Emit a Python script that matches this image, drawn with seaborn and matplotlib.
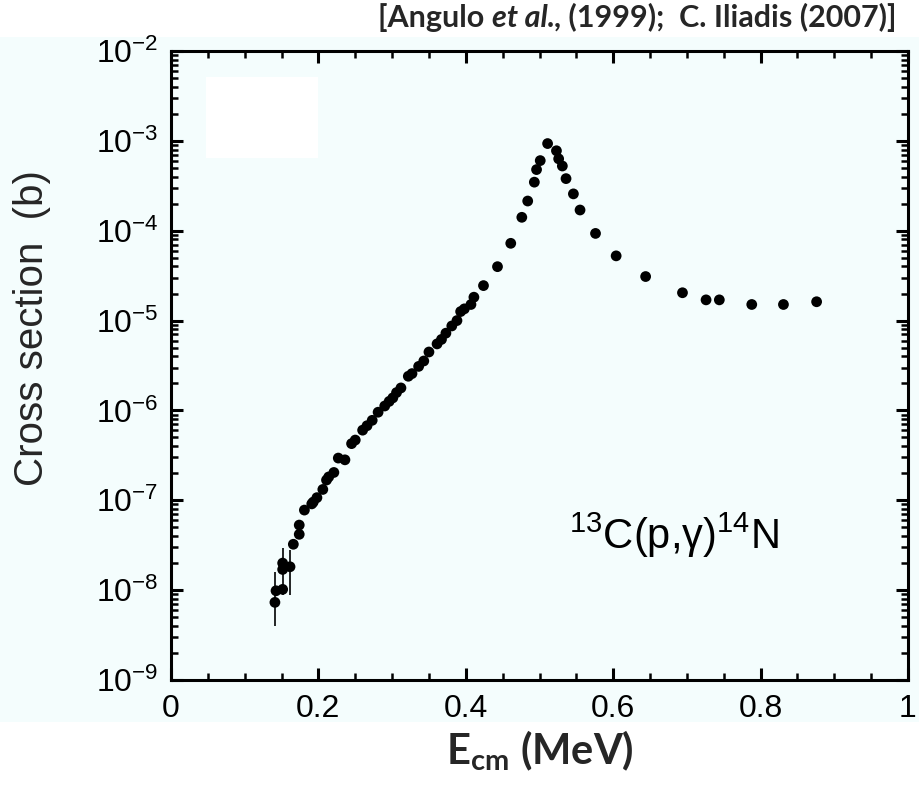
import numpy as np
import pandas as pd
import matplotlib
matplotlib.use("Agg")
import matplotlib.pyplot as plt
import seaborn as sns
from matplotlib.patches import Rectangle
from matplotlib.ticker import LogLocator, MultipleLocator, NullFormatter

# -------------------------
# Data: 13C(p,g)14N cross section
# -------------------------
energy = [0.141, 0.1425, 0.1515, 0.1515, 0.1515, 0.1615, 0.166, 0.174, 0.174, 0.181,
          0.191, 0.193, 0.198, 0.206, 0.211, 0.214, 0.221, 0.227, 0.236, 0.245,
          0.250, 0.260, 0.266, 0.273, 0.281, 0.290, 0.296, 0.301, 0.306, 0.312,
          0.322, 0.327, 0.336, 0.343, 0.350, 0.361, 0.367, 0.373, 0.381, 0.388,
          0.393, 0.398, 0.407, 0.411, 0.424, 0.443, 0.461, 0.476, 0.484, 0.493,
          0.496, 0.501, 0.511, 0.523, 0.526, 0.531, 0.536, 0.546, 0.555, 0.576,
          0.604, 0.644, 0.694, 0.726, 0.744, 0.788, 0.831, 0.876]
sigma = [7.31e-9, 9.84e-9, 1.02e-8, 1.70e-8, 2.00e-8, 1.82e-8, 3.24e-8, 4.18e-8, 5.30e-8, 7.78e-8,
         9.12e-8, 9.55e-8, 1.07e-7, 1.32e-7, 1.68e-7, 1.82e-7, 2.04e-7, 2.95e-7, 2.82e-7, 4.27e-7,
         4.68e-7, 6.03e-7, 6.76e-7, 7.76e-7, 9.55e-7, 1.12e-6, 1.26e-6, 1.38e-6, 1.58e-6, 1.78e-6,
         2.40e-6, 2.57e-6, 3.09e-6, 3.55e-6, 4.47e-6, 5.50e-6, 6.17e-6, 7.24e-6, 8.71e-6, 1.00e-5,
         1.26e-5, 1.35e-5, 1.51e-5, 1.82e-5, 2.45e-5, 3.98e-5, 7.24e-5, 1.41e-4, 2.14e-4, 3.47e-4,
         4.79e-4, 6.03e-4, 9.33e-4, 7.76e-4, 6.31e-4, 5.25e-4, 3.80e-4, 2.57e-4, 1.70e-4, 9.33e-5,
         5.25e-5, 3.09e-5, 2.04e-5, 1.70e-5, 1.70e-5, 1.51e-5, 1.51e-5, 1.62e-5]

# visible error bars at the lowest energies
err_energy = [0.141, 0.1515, 0.1615]
err_sigma = [7.31e-9, 2.00e-8, 1.82e-8]
err_low = [3.98e-9, 8.9e-9, 8.9e-9]
err_high = [1.60e-8, 2.95e-8, 2.80e-8]

xticks = [0, 0.2, 0.4, 0.6, 0.8, 1]
xtick_labels = ["0", "0.2", "0.4", "0.6", "0.8", "1"]

df = pd.DataFrame({"E": energy, "sigma": sigma})

# -------------------------
# Style
# -------------------------
sns.set_style("ticks")
plt.rcParams["font.family"] = ["Liberation Sans", "DejaVu Sans"]
plt.rcParams["mathtext.fontset"] = "custom"
plt.rcParams["mathtext.rm"] = "Liberation Sans"
plt.rcParams["mathtext.it"] = "Liberation Sans:italic"
plt.rcParams["mathtext.bf"] = "Lato:bold"

bg = "#f4fdfd"

fig = plt.figure(figsize=(9.2, 7.86), dpi=100, facecolor="white")
fig.patches.append(Rectangle((0, 1 - 722 / 786), 1, (722 - 37) / 786,
                             transform=fig.transFigure, facecolor=bg,
                             edgecolor="none", zorder=-10))
ax = fig.add_axes([171 / 920, 1 - 680 / 786, 737 / 920, 629 / 786])
ax.set_zorder(1)
ax.set_facecolor(bg)

# white box left on the original slide
ax.add_patch(Rectangle((0.0475, 0.83), 0.152, 0.129, transform=ax.transAxes,
                       facecolor="white", edgecolor="none", zorder=1))

ax.errorbar(err_energy, err_sigma,
            yerr=[np.array(err_sigma) - np.array(err_low),
                  np.array(err_high) - np.array(err_sigma)],
            fmt="none", ecolor="black", elinewidth=1.2, capsize=0, zorder=2)
sns.scatterplot(data=df, x="E", y="sigma", color="black", s=60,
                edgecolor="none", ax=ax, zorder=3, legend=False)

ax.set_yscale("log")
ax.set_xlim(0, 1)
ax.set_ylim(1e-9, 1e-2)
ax.set_xticks(xticks)
ax.set_xticklabels(xtick_labels)
ax.xaxis.set_minor_locator(MultipleLocator(0.05))
ax.yaxis.set_major_locator(LogLocator(base=10, numticks=12))
ax.yaxis.set_minor_locator(LogLocator(base=10, subs=np.arange(2, 10), numticks=12))
ax.yaxis.set_minor_formatter(NullFormatter())

for s in ax.spines.values():
    s.set_linewidth(2.2)
    s.set_color("black")
    s.set_visible(True)
ax.tick_params(which="both", direction="in", top=True, right=True, colors="black")
ax.tick_params(which="major", length=8.6, width=2.2, labelsize=23, pad=9)
ax.tick_params(which="minor", length=5, width=1.8)
ax.tick_params(axis="x", which="major", pad=10)

ax.set_xlabel(r"E$_{\mathbf{cm}}$ (MeV)", family="Lato", fontweight="bold",
              fontsize=30)
ax.xaxis.set_label_coords(0.5007, -0.076)
ax.set_ylabel("Cross section  (b)", fontsize=29)
ax.yaxis.set_label_coords(-0.163, 0.56)

ax.text(0.54, 2.9e-8, r"$^{13}$C(p,γ)$^{14}$N", fontsize=30, ha="left",
        va="baseline", color="black")

# header: mixed bold / bold italic pieces, right-aligned at x = 897 px
pieces = [("[Angulo ", "normal"), ("et al.", "italic"),
          (", (1999);  C. Iliadis (2007)]", "normal")]
renderer = fig.canvas.get_renderer()
texts = []
for txt, st in pieces:
    t = fig.text(0, 1 - 27 / 786, txt, family="Lato", fontweight="bold",
                 style=st, fontsize=22, ha="left", va="baseline")
    texts.append(t)
widths = [t.get_window_extent(renderer).width for t in texts]
x = 897 - sum(widths)
for t, w in zip(texts, widths):
    t.set_x(x / 920)
    x += w

fig.savefig("out.png", dpi=100, facecolor="white")
plt.close(fig)
